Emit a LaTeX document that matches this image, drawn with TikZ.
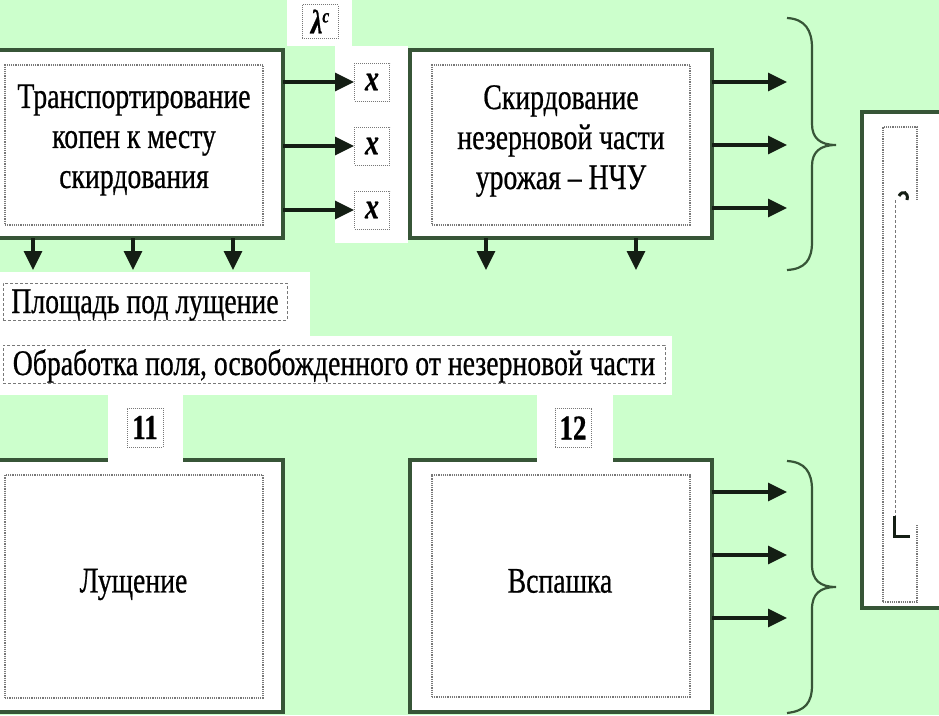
\documentclass[tikz,border=0pt]{standalone}
\usepackage{fontspec}
\setmainfont{Liberation Serif}
\newfontfamily\cond[FakeStretch=0.77,FakeBold=0.6]{Liberation Serif}
\usetikzlibrary{arrows.meta}
\definecolor{bg}{RGB}{204,255,204}
\definecolor{frame}{RGB}{55,85,55}
\definecolor{arr}{RGB}{20,30,20}
\definecolor{dotc}{RGB}{120,120,120}
\begin{document}
\begin{tikzpicture}[x=1pt,y=-1pt,
  outerbox/.style={draw=frame,line width=3.2pt,fill=white,inner sep=0pt,outer sep=0pt},
  innerbox/.style={draw=dotc,densely dotted,line width=1.2pt,inner sep=0pt},
  bigtext/.style={align=center,inner sep=0pt,font=\cond\fontsize{36}{40}\selectfont},
  labbox/.style={draw=dotc,densely dashed,line width=1pt,inner xsep=0pt,inner ysep=0pt,text height=30pt,font=\cond\fontsize{36}{40}\selectfont},
  xbox/.style={draw=dotc,densely dotted,line width=1pt,fill=white,minimum width=35pt,minimum height=38pt,inner sep=0pt,font=\cond\fontsize{36}{36}\selectfont\bfseries\itshape},
  numbox/.style={draw=dotc,densely dotted,line width=1pt,fill=white,minimum width=36pt,minimum height=39pt,inner sep=0pt,font=\cond\fontsize{35}{35}\selectfont\bfseries},
  rarrow/.style={draw=arr,line width=3.3pt,-{Triangle[length=19pt,width=18pt]}},
  bracel/.style={draw=frame,line width=2.2pt}]
\useasboundingbox (0,0) rectangle (939,715);
\fill[bg] (0,0) rectangle (939,715);
% white areas
\fill[white] (287,0) rectangle (352,46);
\fill[white] (335,46) rectangle (408,243);
\fill[white] (0,272) rectangle (310,336);
\fill[white] (0,336) rectangle (672,395);
% boxes
\node[outerbox,minimum width=286pt,minimum height=188pt] (b1) at (140,144) {};
\node[innerbox,minimum width=258pt,minimum height=160pt] (i1) at (134,145) {};
\node[bigtext] (t1) at (134,140) {Транспортирование\\копен к месту\\скирдования};
\node[outerbox,minimum width=302pt,minimum height=188pt] (b2) at (561,144) {};
\node[innerbox,minimum width=258pt,minimum height=160pt] (i2) at (561,145) {};
\node[bigtext] (t2) at (561,141) {Скирдование\\незерновой части\\урожая – НЧУ};
\node[outerbox,minimum width=286pt,minimum height=252pt] (b3) at (140,586) {};
\node[innerbox,minimum width=258pt,minimum height=223pt] (i3) at (134,586.5) {};
\node[bigtext] (t3) at (133.5,584.5) {Лущение};
\node[outerbox,minimum width=302pt,minimum height=252pt] (b4) at (561,586) {};
\node[innerbox,minimum width=258pt,minimum height=222pt] (i4) at (561,586) {};
\node[bigtext] (t4) at (560,581) {Вспашка};
% white patches over top borders
\fill[white] (108,393) rectangle (183,464);
\fill[white] (537,393) rectangle (613,464);
% number boxes
\node[numbox] (n11) at (145,427.5) {11};
\node[numbox] (n12) at (573,428) {12};
% lambda box
\node[xbox,minimum width=36pt,minimum height=34pt] (lam) at (320,21.5) {{\fontsize{34}{34}\selectfont λ}\raisebox{11pt}{\fontsize{20}{20}\selectfont c}};
% x boxes
\node[xbox] (x1) at (372,82) {x};
\node[xbox] (x2) at (372,146) {x};
\node[xbox] (x3) at (372,210) {x};
\draw[rarrow] (x1 -| b1.east) -- (x1.west);
\draw[rarrow] (x2 -| b1.east) -- (x2.west);
\draw[rarrow] (x3 -| b1.east) -- (x3.west);
% labels
\node[labbox,minimum width=284pt,text depth=7pt] (l1) at (145,301.5) {Площадь под лущение};
\node[labbox,minimum width=662pt,text depth=8pt] (l2) at (334,364) {Обработка поля, освобожденного от незерновой части};
% down arrows
\coordinate (d1) at (33,270);
\coordinate (d2) at (133,270);
\coordinate (d3) at (233,270);
\coordinate (d4) at (486,270);
\coordinate (d5) at (636,270);
\draw[rarrow] (b1.south -| d1) -- (d1);
\draw[rarrow] (b1.south -| d2) -- (d2);
\draw[rarrow] (b1.south -| d3) -- (d3);
\draw[rarrow] (b2.south -| d4) -- (d4);
\draw[rarrow] (b2.south -| d5) -- (d5);
% right arrows
\coordinate (r1) at (787,82);
\coordinate (r2) at (787,145);
\coordinate (r3) at (787,208);
\coordinate (r4) at (787,492);
\coordinate (r5) at (787,555);
\coordinate (r6) at (787,618);
\draw[rarrow] (b2.east |- r1) -- (r1);
\draw[rarrow] (b2.east |- r2) -- (r2);
\draw[rarrow] (b2.east |- r3) -- (r3);
\draw[rarrow] (b4.east |- r4) -- (r4);
\draw[rarrow] (b4.east |- r5) -- (r5);
\draw[rarrow] (b4.east |- r6) -- (r6);
% braces
\draw[bracel] (787,18) .. controls (805,19) and (812,30) .. (812,48) -- (812,124) .. controls (812,138) and (820,145) .. (836,145) .. controls (820,145) and (812,152) .. (812,166) -- (812,242) .. controls (812,260) and (805,269) .. (787,270);
\draw[bracel] (787,461) .. controls (805,462) and (812,472) .. (812,490) -- (812,565) .. controls (812,580) and (820,587) .. (836,587) .. controls (820,587) and (812,594) .. (812,609) -- (812,685) .. controls (812,703) and (805,711) .. (787,713);
% right vertical box
\node[outerbox,minimum width=86pt,minimum height=496pt] (rb) at (905,360) {};
\node[innerbox,minimum width=34pt,minimum height=475pt] (ri) at (900,364.5) {};
\fill[white] (895,200) rectangle (945,525);
\coordinate (cvt) at (895,200);
\coordinate (cvb) at (895,525);
\draw[dotc,densely dashed,line width=0.8pt] (cvt) -- (cvb);
\draw[arr,line width=3pt] (899,196) .. controls (902,190) and (909,192) .. (907,200);
\draw[arr,line width=3pt] (894,516) -- (894,536) -- (910,536);
\end{tikzpicture}
\end{document}
